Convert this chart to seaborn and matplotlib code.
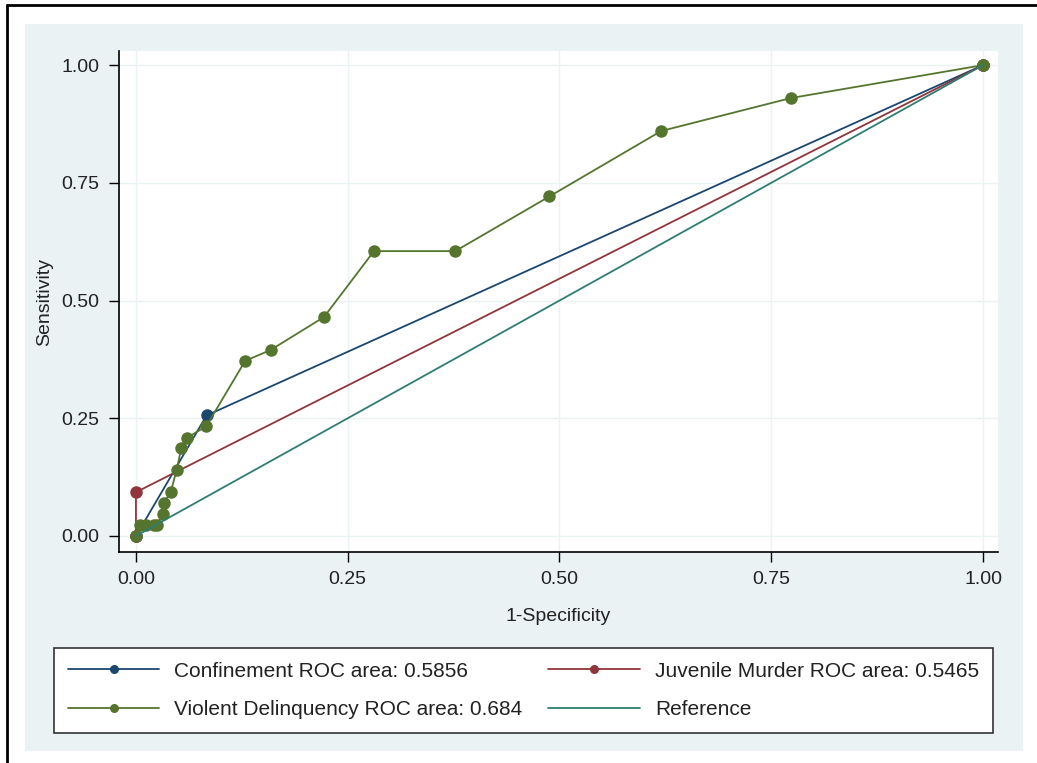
import numpy as np
import pandas as pd
import matplotlib
matplotlib.use("Agg")
import matplotlib.pyplot as plt
from matplotlib.lines import Line2D
from matplotlib.patches import Rectangle
import seaborn as sns

# ---------------------------------------------------------------------
# ROC curve points (1-specificity, sensitivity)
# ---------------------------------------------------------------------
conf_fpr = [0.0, 0.0834, 1.0]
conf_tpr = [0.0, 0.256, 1.0]

juv_fpr = [0.0, 0.0, 1.0]
juv_tpr = [0.0, 0.093, 1.0]

viol_fpr = [0.0, 0.005, 0.012, 0.021, 0.025, 0.0315, 0.033, 0.041, 0.048,
            0.0535, 0.0606, 0.083, 0.129, 0.159, 0.222, 0.281, 0.377,
            0.488, 0.620, 0.773, 1.0]
viol_tpr = [0.0, 0.023, 0.023, 0.023, 0.023, 0.047, 0.070, 0.093, 0.140,
            0.186, 0.209, 0.233, 0.372, 0.395, 0.465, 0.605, 0.605,
            0.721, 0.860, 0.930, 1.0]

ref_fpr = [0.0, 1.0]
ref_tpr = [0.0, 1.0]

labels = ["Confinement ROC area: 0.5856",
          "Juvenile Murder ROC area: 0.5465",
          "Violent Delinquency ROC area: 0.684",
          "Reference"]
colors = ["#1a476f", "#90353b", "#55752f", "#2e7d72"]
ticks = [0.0, 0.25, 0.5, 0.75, 1.0]
tick_labels = ["0.00", "0.25", "0.50", "0.75", "1.00"]

curves = [(conf_fpr, conf_tpr), (juv_fpr, juv_tpr), (viol_fpr, viol_tpr), (ref_fpr, ref_tpr)]

# ---------------------------------------------------------------------
# Figure
# ---------------------------------------------------------------------
sns.set_style("white")
plt.rcParams["font.family"] = ["Liberation Sans", "DejaVu Sans"]

W, H = 1037, 763
fig = plt.figure(figsize=(W / 100, H / 100), dpi=100)
fig.patch.set_facecolor("white")

# light blue outer region and screenshot borders
fig.patches.append(Rectangle((25 / W, 1 - 751 / H), (1023 - 25) / W, (751 - 24) / H,
                             transform=fig.transFigure, facecolor="#eaf2f3",
                             edgecolor="none", zorder=-1))
fig.lines.append(Line2D([7 / W, 7 / W], [0, 1 - 5 / H], transform=fig.transFigure,
                        color="black", lw=2, zorder=-1))
fig.lines.append(Line2D([7 / W, 1], [1 - 5 / H, 1 - 5 / H], transform=fig.transFigure,
                        color="black", lw=2, zorder=-1))

ax = fig.add_axes([119 / W, 1 - 552 / H, (998 - 119) / W, (552 - 51) / H])
ax.set_zorder(1)
ax.set_facecolor("white")

for i, (fx, ty) in enumerate(curves):
    d = pd.DataFrame({"fpr": fx, "tpr": ty})
    marker = "o" if i < 3 else None
    sns.lineplot(data=d, x="fpr", y="tpr", ax=ax, color=colors[i], sort=False,
                 estimator=None, lw=1.3, marker=marker, markersize=9,
                 markeredgewidth=0, zorder=3 + i)

ax.set_xlim(-0.020, 1.0177)
ax.set_ylim(-0.034, 1.030)
ax.set_xticks(ticks)
ax.set_xticklabels(tick_labels)
ax.set_yticks(ticks)
ax.set_yticklabels(tick_labels)
ax.grid(True, color="#eaf2f3", lw=1)
ax.set_axisbelow(True)
for s in ["top", "right"]:
    ax.spines[s].set_visible(False)
for s in ["left", "bottom"]:
    ax.spines[s].set_color("black")
    ax.spines[s].set_linewidth(1.2)
ax.tick_params(axis="both", direction="out", length=7, width=1, color="black",
               labelsize=14, labelcolor="#222222", pad=7, left=True, bottom=True)
ax.set_xlabel("1-Specificity", fontsize=14, color="#222222", labelpad=14)
ax.set_ylabel("Sensitivity", fontsize=14, color="#222222", labelpad=6)

# legend: ncol=2 fills column-wise
order = [0, 2, 1, 3]
handles = []
for i in order:
    handles.append(Line2D([], [], color=colors[i], lw=1.3,
                          marker="o" if i < 3 else None, markersize=6.5,
                          markeredgewidth=0))
leg = fig.legend(handles, [labels[i] for i in order], ncol=2,
                 loc="upper left", mode="expand", borderaxespad=0,
                 bbox_to_anchor=(54 / W, 1 - 730 / H, (993 - 54) / W, (730 - 648) / H),
                 fontsize=15, handlelength=4.4, handletextpad=0.72,
                 labelspacing=0.92, borderpad=0.66, fancybox=False,
                 framealpha=1, edgecolor="#333333", facecolor="white")
leg.get_frame().set_linewidth(1.2)
for t in leg.get_texts():
    t.set_color("#222222")

fig.savefig("out.png", dpi=100)
